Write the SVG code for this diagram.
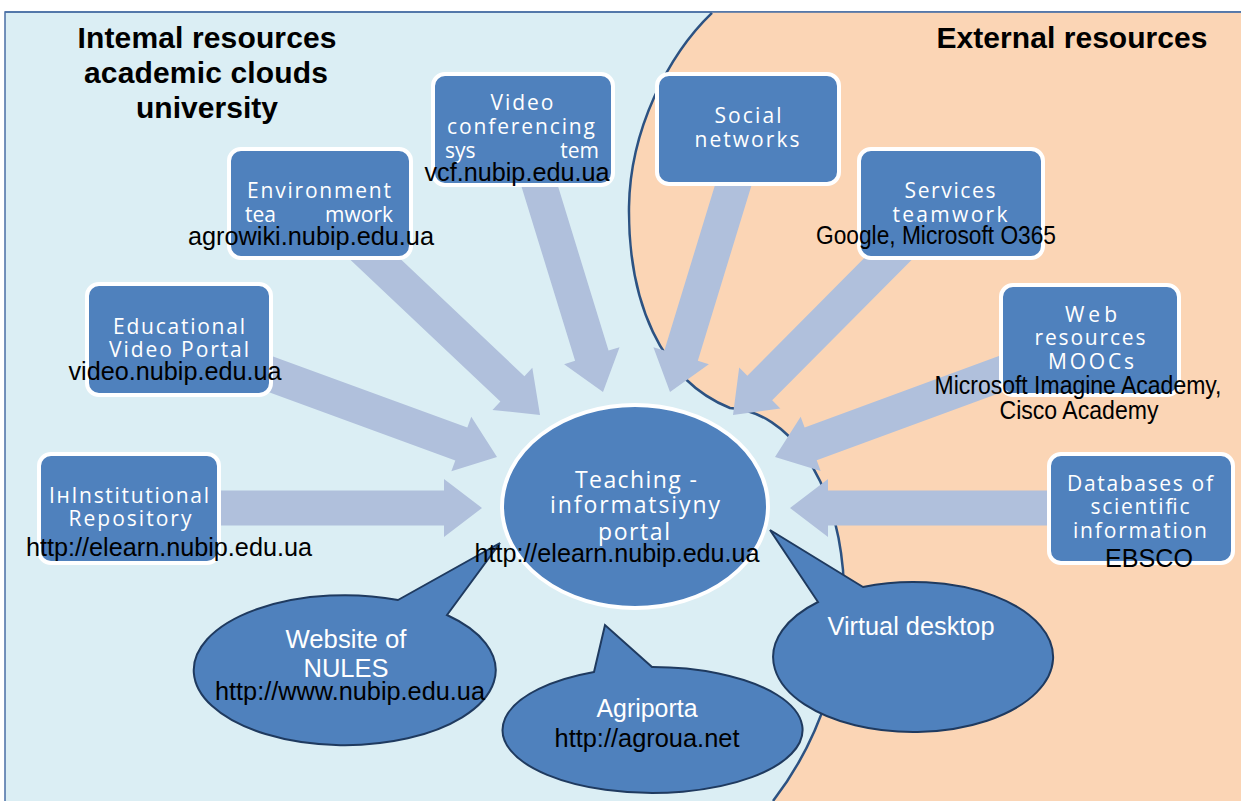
<svg xmlns="http://www.w3.org/2000/svg" width="1241" height="801" viewBox="0 0 1241 801">
<style>
.box{fill:#4F81BD;stroke:#FFFFFF;stroke-width:4}
.bt{font-family:"Open Sans","Noto Sans",sans-serif;font-size:21px;fill:#FFFFFF;text-anchor:middle}
.ct{font-family:"Open Sans","Noto Sans",sans-serif;font-size:23px;fill:#FFFFFF;text-anchor:middle}
.url{font-family:"Liberation Sans",Arial,sans-serif;font-size:25px;fill:#000000;text-anchor:middle}
.wt{font-family:"Liberation Sans",Arial,sans-serif;font-size:25px;fill:#FFFFFF;text-anchor:middle}
.title{font-family:"Liberation Sans",Arial,sans-serif;font-size:30px;font-weight:bold;fill:#000000;text-anchor:middle}
.arr{fill:#B0C0DC}
.call{fill:#4F81BD;stroke:#1F3A5F;stroke-width:2;stroke-linejoin:miter}
</style>
<rect x="0" y="0" width="1241" height="801" fill="#FFFFFF"/>
<rect x="5" y="12" width="1240" height="795" fill="#DBEEF4" stroke="#4A6FA5" stroke-width="1.5"/>
<path d="M712,12 C668,55 630,130 629,207 C628,300 660,380 730,408 C790,412 835,480 843,570 C848,660 820,740 773,801 L1241,801 L1241,12.8 Z" fill="#FBD5B5"/>
<path d="M712,12.8 C668,55 630,130 629,207 C628,300 660,380 730,408 C790,412 835,480 843,570 C848,660 820,740 773,801" fill="none" stroke="#2C5282" stroke-width="2.5"/>
<line x1="5" y1="12" x2="1241" y2="12" stroke="#4A6FA5" stroke-width="1.5"/>

<text class="title" x="207" y="48" textLength="259">Intemal resources</text>
<text class="title" x="206" y="83" textLength="244">academic clouds</text>
<text class="title" x="207" y="118" textLength="142">university</text>
<text class="title" x="1072" y="48" textLength="271">External resources</text>

<g id="connectors">
<path class="arr" transform="translate(482,508) rotate(0)" d="M0,0 L-38,-29 L-38,-17.5 L-280,-17.5 L-280,17.5 L-38,17.5 L-38,29 Z"/>
<path class="arr" transform="translate(790,508) rotate(180)" d="M0,0 L-38,-29 L-38,-17.5 L-280,-17.5 L-280,17.5 L-38,17.5 L-38,29 Z"/>
<path class="arr" transform="translate(497,457) rotate(20.1)" d="M0,0 L-38,-29 L-38,-17.5 L-258,-17.5 L-258,17.5 L-38,17.5 L-38,29 Z"/>
<path class="arr" transform="translate(775,457) rotate(159.8)" d="M0,0 L-38,-29 L-38,-17.5 L-258,-17.5 L-258,17.5 L-38,17.5 L-38,29 Z"/>
<path class="arr" transform="translate(540,415) rotate(43.4)" d="M0,0 L-38,-29 L-38,-17.5 L-250,-17.5 L-250,17.5 L-38,17.5 L-38,29 Z"/>
<path class="arr" transform="translate(603,392) rotate(72.9)" d="M0,0 L-38,-29 L-38,-17.5 L-232,-17.5 L-232,17.5 L-38,17.5 L-38,29 Z"/>
<path class="arr" transform="translate(670,392) rotate(107)" d="M0,0 L-38,-29 L-38,-17.5 L-236,-17.5 L-236,17.5 L-38,17.5 L-38,29 Z"/>
<path class="arr" transform="translate(733,415) rotate(134.8)" d="M0,0 L-38,-29 L-38,-17.5 L-240,-17.5 L-240,17.5 L-38,17.5 L-38,29 Z"/>
</g>

<g id="video-conferencing">
<rect class="box" x="433" y="74" width="180" height="111" rx="12"/>
<text class="bt" x="522" y="110" textLength="63" lengthAdjust="spacing">Video</text>
<text class="bt" x="521" y="134" textLength="148" lengthAdjust="spacing">conferencing</text>
<text class="bt"><tspan x="445" y="158" text-anchor="start">sys</tspan><tspan x="599" y="158" text-anchor="end">tem</tspan></text>
<text class="url" x="517" y="181" textLength="185" lengthAdjust="spacingAndGlyphs">vcf.nubip.edu.ua</text>
</g>

<g id="social-networks">
<rect class="box" x="657" y="74" width="182" height="110" rx="12"/>
<text class="bt" x="748" y="123" textLength="67" lengthAdjust="spacing">Social</text>
<text class="bt" x="747" y="147" textLength="105" lengthAdjust="spacing">networks</text>
</g>

<g id="environment-teamwork">
<rect class="box" x="229" y="149" width="182" height="109" rx="12"/>
<text class="bt" x="319" y="198" textLength="144" lengthAdjust="spacing">Environment</text>
<text class="bt"><tspan x="245" y="222" text-anchor="start">tea</tspan><tspan x="393" y="222" text-anchor="end">mwork</tspan></text>
<text class="url" x="311" y="245" textLength="246" lengthAdjust="spacingAndGlyphs">agrowiki.nubip.edu.ua</text>
</g>

<g id="services-teamwork">
<rect class="box" x="859" y="149" width="184" height="109" rx="12"/>
<text class="bt" x="950" y="198" textLength="91" lengthAdjust="spacing">Services</text>
<text class="bt" x="950" y="222" textLength="115" lengthAdjust="spacing">teamwork</text>
<text class="url" x="936" y="244" textLength="240" lengthAdjust="spacingAndGlyphs">Google, Microsoft O365</text>
</g>

<g id="educational-video-portal">
<rect class="box" x="87" y="284" width="184" height="111" rx="12"/>
<text class="bt" x="179" y="334" textLength="132" lengthAdjust="spacing">Educational</text>
<text class="bt" x="179" y="357" textLength="140" lengthAdjust="spacing">Video Portal</text>
<text class="url" x="175" y="380" textLength="213" lengthAdjust="spacingAndGlyphs">video.nubip.edu.ua</text>
</g>

<g id="web-resources">
<rect class="box" x="1001" y="285" width="178" height="110" rx="12"/>
<text class="bt" x="1091" y="322" textLength="52" lengthAdjust="spacing">Web</text>
<text class="bt" x="1090" y="345" textLength="111" lengthAdjust="spacing">resources</text>
<text class="bt" x="1091" y="369" textLength="86" lengthAdjust="spacing">MOOCs</text>
<text class="url" x="1078" y="394" textLength="287" lengthAdjust="spacingAndGlyphs">Microsoft Imagine Academy,</text>
<text class="url" x="1079" y="419" textLength="159" lengthAdjust="spacingAndGlyphs">Cisco Academy</text>
</g>

<g id="institutional-repository">
<rect class="box" x="39" y="454" width="180" height="109" rx="12"/>
<text class="bt" x="129" y="503" textLength="160" lengthAdjust="spacing">ІнInstitutional</text>
<text class="bt" x="130" y="526" textLength="123" lengthAdjust="spacing">Repository</text>
<text class="url" x="169" y="556" textLength="286" lengthAdjust="spacingAndGlyphs">http://elearn.nubip.edu.ua</text>
</g>

<g id="databases">
<rect class="box" x="1049" y="454" width="184" height="109" rx="12"/>
<text class="bt" x="1140" y="491" textLength="146" lengthAdjust="spacing">Databases of</text>
<text class="bt" x="1140" y="514" textLength="99" lengthAdjust="spacing">scientific</text>
<text class="bt" x="1140" y="538" textLength="134" lengthAdjust="spacing">information</text>
<text class="url" x="1149" y="567" textLength="88" lengthAdjust="spacingAndGlyphs">EBSCO</text>
</g>

<g id="teaching-portal">
<ellipse cx="635" cy="506.5" rx="133" ry="101.5" fill="#4F81BD" stroke="#FFFFFF" stroke-width="4"/>
<text class="ct" x="636" y="488" textLength="122" lengthAdjust="spacing">Teaching -</text>
<text class="ct" x="635" y="513" textLength="170" lengthAdjust="spacing">informatsiyny</text>
<text class="ct" x="634" y="540" textLength="72" lengthAdjust="spacing">portal</text>
</g>

<g id="website-nules">
<path class="call" d="M398,600 L500,543 L447,615 A151,75 0 1 1 398,600 Z"/>
<text class="wt" x="346" y="648" textLength="121" lengthAdjust="spacingAndGlyphs">Website of</text>
<text class="wt" x="346" y="677" textLength="85" lengthAdjust="spacingAndGlyphs">NULES</text>
<text class="url" x="350" y="700" textLength="270" lengthAdjust="spacingAndGlyphs">http://www.nubip.edu.ua</text>
</g>

<g id="agriporta">
<path class="call" d="M594,672 L605,625 L652,667 A150,63 0 1 1 594,672 Z"/>
<text class="wt" x="647" y="717" textLength="101" lengthAdjust="spacingAndGlyphs">Agriporta</text>
<text class="url" x="647" y="747" textLength="185" lengthAdjust="spacingAndGlyphs">http://agroua.net</text>
</g>

<g id="virtual-desktop">
<path class="call" d="M863,587 L770,530 L818,602 A140,75 0 1 0 863,587 Z"/>
<text class="wt" x="911" y="635" textLength="167" lengthAdjust="spacingAndGlyphs">Virtual desktop</text>
</g>

<text class="url" x="617" y="562" textLength="285" lengthAdjust="spacingAndGlyphs">http://elearn.nubip.edu.ua</text>
</svg>
